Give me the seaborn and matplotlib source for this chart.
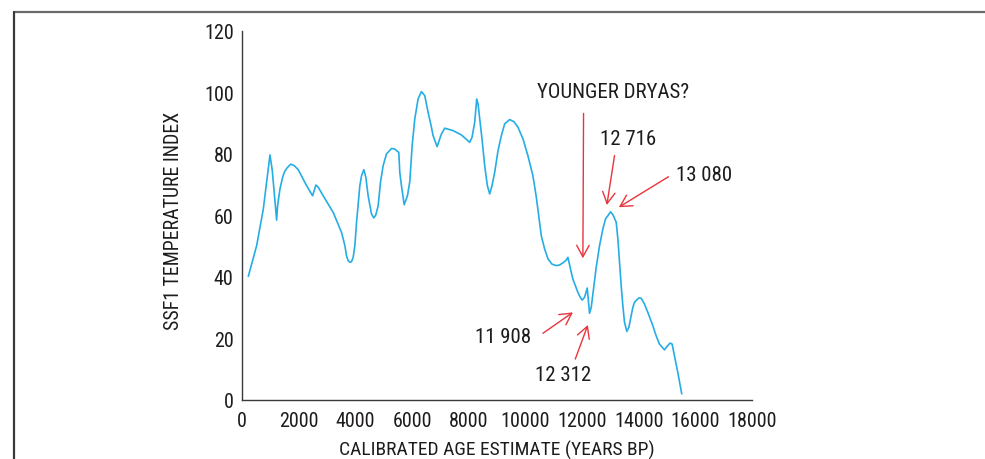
import matplotlib
matplotlib.use("Agg")
import matplotlib.pyplot as plt
from matplotlib.lines import Line2D
from matplotlib import font_manager as fm
import seaborn as sns
import pandas as pd

# ---- data ----
age_bp = [222, 517, 752, 987, 1069, 1222, 1257, 1339, 1433, 1492, 1574, 1716, 1845,
          1985, 2280, 2491, 2608, 2691, 2866, 3219, 3513, 3631, 3689, 3748, 3807,
          3867, 3924, 3983, 4043, 4159, 4218, 4300, 4371, 4452, 4571, 4653, 4723,
          4805, 4888, 4981, 5099, 5277, 5393, 5534, 5569, 5628, 5725, 5839, 5922,
          6005, 6098, 6215, 6333, 6450, 6567, 6686, 6743, 6885, 6979, 7039, 7155,
          7449, 7744, 8037, 8118, 8213, 8284, 8330, 8389, 8471, 8565, 8660, 8742,
          8824, 8918, 9036, 9154, 9271, 9447, 9599, 9740, 9917, 10092, 10268,
          10387, 10480, 10564, 10681, 10799, 10938, 11092, 11209, 11326, 11445,
          11503, 11621, 11679, 11855, 11949, 12008, 12090, 12185, 12231, 12266,
          12326, 12407, 12502, 12619, 12736, 12830, 12912, 13007, 13089, 13207,
          13266, 13324, 13383, 13441, 13500, 13582, 13653, 13736, 13794, 13853,
          14005, 14088, 14205, 14323, 14498, 14616, 14733, 14910, 15027, 15110,
          15180, 15263, 15380, 15520]
temp_index = [40.2, 50.2, 62.1, 79.7, 74.6, 58.5, 63.2, 68.6, 72.4, 74.0, 75.3, 76.7,
              76.2, 74.9, 69.7, 66.4, 69.9, 69.2, 66.4, 61.0, 54.5, 50.2, 46.9, 45.3,
              44.8, 45.0, 46.4, 50.2, 57.8, 69.7, 72.9, 74.9, 72.4, 66.4, 60.5, 59.2,
              60.2, 63.2, 70.8, 76.2, 80.0, 81.8, 81.6, 80.5, 74.0, 69.7, 63.5, 66.4,
              71.0, 82.7, 91.4, 97.9, 100.3, 99.0, 93.6, 88.7, 86.0, 82.4, 84.9, 86.5,
              88.4, 87.6, 86.2, 83.8, 85.4, 90.3, 97.9, 96.3, 91.4, 84.9, 76.2, 69.7,
              67.0, 69.7, 74.0, 81.1, 86.0, 89.8, 91.2, 90.5, 88.7, 84.9, 79.4, 72.9,
              66.0, 59.4, 53.4, 49.1, 45.9, 44.2, 43.7, 43.9, 44.6, 45.5, 46.4, 41.5,
              39.3, 35.0, 33.2, 32.5, 33.4, 36.4, 31.8, 28.2, 30.1, 36.1, 43.2, 50.2,
              55.6, 58.9, 59.9, 61.2, 60.3, 57.8, 52.4, 44.8, 37.2, 30.7, 25.3, 22.3,
              23.6, 27.4, 30.1, 31.8, 33.2, 33.1, 31.2, 28.5, 24.2, 20.9, 18.2, 16.3,
              17.7, 18.5, 18.2, 14.4, 9.0, 2.0]

x_ticks = [0, 2000, 4000, 6000, 8000, 10000, 12000, 14000, 16000, 18000]
y_ticks = [0, 20, 40, 60, 80, 100, 120]

ann_labels = ["YOUNGER DRYAS?", "12 716", "13 080", "11 908", "12 312"]
ann_text_xy = [(13113, 100.2), (13630, 85.0), (16296, 73.4), (9211, 20.5), (11339, 8.3)]
ann_tail_xy = [(12055, 93.2), (13148, 79.5), (15051, 72.6), (10621, 21.7), (11762, 13.3)]
ann_tip_xy = [(12031, 46.1), (12877, 63.4), (13300, 62.7), (11679, 28.5), (12207, 24.4)]

x_label = "CALIBRATED AGE ESTIMATE (YEARS BP)"
y_label = "SSF1 TEMPERATURE INDEX"


def pick_narrow_font():
    entries = fm.fontManager.ttflist
    names = {f.name for f in entries}
    for p in ["Liberation Sans Narrow", "Roboto Condensed", "Open Sans Condensed",
              "Noto Sans Condensed", "DejaVu Sans Condensed", "Arial Narrow"]:
        if p in names:
            return p, "normal"
    for f in entries:
        fn = f.fname.replace("\\", "/").split("/")[-1]
        if fn == "DejaVuSansCondensed.ttf":
            return f.name, f.stretch
    for f in entries:
        fn = f.fname.split("/")[-1]
        if ("Condensed" in fn or "Narrow" in fn) and f.style == "normal" \
                and "Bold" not in fn and "Light" not in fn:
            return f.name, f.stretch
    return "Liberation Sans", "normal"


# ---- style ----
sns.set_theme(style="white")
fam, stretch = pick_narrow_font()
plt.rcParams["font.family"] = [fam, "Liberation Sans", "DejaVu Sans"]
plt.rcParams["font.stretch"] = stretch

TEXT = "#1e1b1c"
AXC = "#3a3a3a"
LINE = "#25ade6"
RED = "#e8343c"

fig = plt.figure(figsize=(9.85, 4.6), dpi=100)
ax = fig.add_axes([242 / 985, 59 / 460, 510 / 985, 369 / 460])

df = pd.DataFrame({"age": age_bp, "temp": temp_index})
sns.lineplot(data=df, x="age", y="temp", ax=ax, color=LINE, linewidth=1.2,
             estimator=None, sort=False, solid_joinstyle="round",
             solid_capstyle="round")

ax.set_xlim(0, 18000)
ax.set_ylim(0, 120)
ax.set_xticks(x_ticks)
ax.set_yticks(y_ticks)
ax.set_xticklabels([str(t) for t in x_ticks])
ax.set_yticklabels([str(t) for t in y_ticks])

for s in ["top", "right"]:
    ax.spines[s].set_visible(False)
for s in ["left", "bottom"]:
    ax.spines[s].set_color(AXC)
    ax.spines[s].set_linewidth(1.0)

ax.tick_params(axis="both", direction="out", length=5, width=1.0, color=AXC,
               labelsize=14.5, labelcolor=TEXT)
ax.tick_params(axis="y", pad=1)
ax.tick_params(axis="x", pad=3)

ax.set_xlabel(x_label, fontsize=14, color=TEXT)
ax.set_ylabel(y_label, fontsize=14.3, color=TEXT)
ax.xaxis.set_label_coords(0.5, -0.108)
ax.yaxis.set_label_coords(-0.116, 0.488)

for lab, txy, tail, tip in zip(ann_labels, ann_text_xy, ann_tail_xy, ann_tip_xy):
    ax.text(txy[0], txy[1], lab, fontsize=15, color=TEXT, ha="center", va="center",
            clip_on=False)
    ax.annotate("", xy=tip, xytext=tail, annotation_clip=False,
                arrowprops=dict(arrowstyle="->,head_length=0.55,head_width=0.3",
                                color=RED, lw=1.0, shrinkA=0, shrinkB=0,
                                mutation_scale=15))

# frame lines of the original figure panel
W, H = 985.0, 460.0
fig.add_artist(Line2D([14 / W, 1.0], [1 - 13 / H, 1 - 13 / H], transform=fig.transFigure,
                      color="#6a6a6a", linewidth=1.6))
fig.add_artist(Line2D([14 / W, 14 / W], [0.0, 1 - 13 / H], transform=fig.transFigure,
                      color="#3a3a3a", linewidth=1.6))

fig.savefig("out.png", dpi=100, facecolor="white")
